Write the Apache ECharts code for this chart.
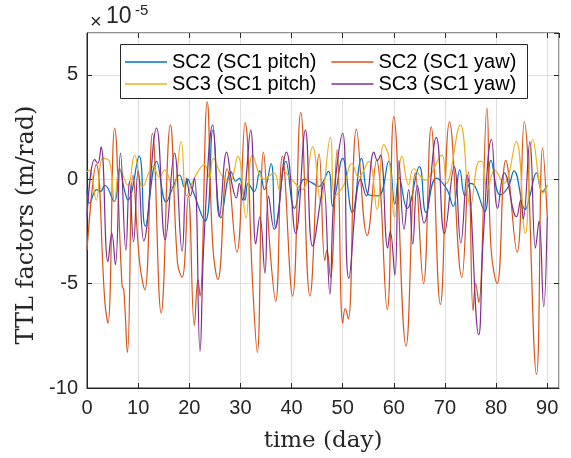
<!DOCTYPE html>
<html>
<head>
<meta charset="utf-8">
<script src="https://cdn.jsdelivr.net/npm/echarts@6/dist/echarts.min.js"></script>
<style>
html,body{margin:0;padding:0;background:#fff;}
#main{width:571px;height:458px;}
</style>
</head>
<body>
<div id="main"></div>
<script>
// values are in units of 1e-5 m/rad, [day, value]
var legendNames = ['SC2 (SC1 pitch)', 'SC2 (SC1 yaw)', 'SC3 (SC1 pitch)', 'SC3 (SC1 yaw)'];
var lineColors = ['#0072BD', '#D95319', '#EDB120', '#7E2F8E'];
var xTicks = [0, 10, 20, 30, 40, 50, 60, 70, 80, 90];
var yTicks = [-10, -5, 0, 5];

var sc2Pitch = [
  [0,-0.5],[0.5,-1.15],[1.9,-0.5],[2.6,-0.6],[3.5,-0.3],[5.3,-1.07],[6.4,0.5],[7.3,-0.5],[8.0,-1.0],
  [10.2,1.1],[11.4,-2.25],[13.6,0.85],[15.5,-1.1],[16.6,-0.5],[18.1,0.2],[19.1,-0.4],[19.7,0.0],[20.3,-0.3],
  [23.1,-2.0],[24.6,2.35],[26.2,-1.85],[28.2,0.35],[29.1,-0.1],[29.8,0.05],[30.9,-1.0],[31.5,-0.2],[32.7,-0.6],
  [33.8,0.4],[34.7,-0.5],[36.0,0.75],[36.9,-2.35],[38.9,0.85],[40.6,-1.4],[42.5,0.0],[44.2,-0.2],[45.3,-0.35],
  [47.2,0.37],[48.0,-1.3],[48.6,-0.7],[50.0,1.0],[51.9,-1.6],[53.7,1.0],[55.1,-0.75],[57.0,-0.8],[59.0,0.85],
  [60.2,-1.2],[61.0,0.1],[62.6,-1.4],[65.0,0.6],[66.3,-1.6],[68.3,0.05],[70.4,-0.5],[71.6,-1.3],[72.9,0.45],
  [73.9,-0.8],[75.0,-0.2],[75.9,-0.35],[77.8,-1.55],[79.0,0.9],[80.8,-0.75],[82.4,-0.35],[83.5,0.4],
  [85.7,-1.45],[86.6,-0.8],[87.9,0.3],[89.0,-0.6],[90,-0.3]
];
var sc2Yaw = [
  [0,-3.4],[1.8,0.7],[3.5,-5.9],[4.1,-6.9],[5.4,2.45],[6.85,-5.1],[7.2,-5.3],[7.9,-8.3],[9.0,0.2],[10.3,-4.0],
  [11.3,-5.3],[12.8,2.2],[14.5,-6.4],[16.3,2.6],[17.7,-4.0],[18.6,-4.7],[19.8,-0.8],[21.0,-7.0],[21.7,-4.8],
  [22.1,-5.6],[23.5,3.7],[24.6,-3.2],[25.6,-4.8],[27.4,0.5],[29.3,-3.5],[30.9,2.7],[32.4,-5.1],[33.3,-8.3],
  [34.5,1.3],[35.9,-3.7],[36.9,-5.85],[38.2,1.1],[40.2,-5.6],[41.8,3.2],[43.6,-5.6],[45.4,1.2],[46.5,-3.9],
  [46.9,-3.4],[47.6,-4.7],[48.9,1.4],[50.0,-6.9],[50.5,-6.2],[51.1,-6.7],[52.7,2.4],[54.8,-2.7],[56.6,0.9],
  [58.7,-6.25],[60.0,3.0],[62.4,-8.0],[64.2,0.3],[65.8,-5.0],[67.3,2.5],[69.1,-6.0],[70.9,2.75],[73.3,-4.7],
  [74.6,0.35],[75.5,-6.3],[76.0,-5.0],[76.6,-5.9],[78.2,3.4],[79.0,-3.3],[80.2,-5.0],[81.9,0.9],[84.1,-3.5],
  [85.5,2.75],[87.9,-9.35],[89.1,1.5],[90,-1.8]
];
var sc3Pitch = [
  [0,0.35],[0.5,0.45],[1.8,-1.0],[3.1,1.0],[4.4,0.85],[5.4,-1.07],[6.4,0.5],[8.0,-0.3],[9.3,1.15],[10.9,-0.35],
  [12.9,0.6],[14.2,0.1],[15.2,0.45],[16.8,-0.5],[18.4,1.8],[19.5,-0.8],[21.0,0.05],[22.96,0.7],[23.95,0.05],
  [24.7,1.0],[26.3,0.2],[27.8,-0.1],[29.5,1.1],[31.1,-1.85],[32.4,1.15],[34.6,0.0],[36.6,0.3],[37.6,-0.5],
  [38.5,0.4],[39.8,0.05],[42.1,-0.5],[44.1,1.55],[45.7,-1.07],[47.6,2.0],[48.5,-0.8],[50.2,-0.3],[51.8,0.75],
  [53.1,0.1],[55.1,0.85],[56.7,-1.45],[58.0,1.65],[59.0,1.1],[60.2,-1.8],[61.6,1.1],[62.9,-0.27],[63.9,0.5],
  [66.2,-0.05],[67.0,0.1],[69.4,1.15],[70.3,-0.2],[73.0,2.6],[75.0,-1.3],[76.7,0.85],[77.2,0.85],[78.3,-0.5],
  [79.7,0.45],[81.5,-0.2],[83.9,1.8],[85.7,-2.6],[87.2,1.9],[89.2,-0.67],[90,-0.3]
];
var sc3Yaw = [
  [0,-1.8],[1.5,0.95],[2.1,0.75],[2.75,1.55],[4.1,-3.95],[4.85,-2.6],[5.55,-4.1],[6.55,1.25],[7.6,-3.4],
  [8.3,-0.1],[9.1,-3.0],[10.0,0.4],[11.1,-2.95],[13.6,2.45],[15.3,-2.9],[17.1,1.25],[18.6,-3.45],[19.5,0.05],
  [20.2,-0.8],[21.0,0.05],[22.1,-8.25],[22.9,-2.8],[24.6,2.6],[25.9,-1.8],[27.3,1.3],[28.4,-0.3],[29.2,-0.9],
  [29.8,-0.2],[30.4,-1.0],[32.0,2.35],[33.0,-3.1],[33.8,-1.8],[34.8,-4.5],[35.5,-0.8],[36.6,-2.4],[39.0,1.3],
  [40.8,-2.6],[42.7,2.35],[44.1,-3.2],[46.1,-0.35],[46.3,-0.2],[47.5,-5.5],[48.3,-0.8],[50.0,2.2],[51.2,-4.75],
  [53.5,0.0],[54.6,-0.8],[56.1,1.3],[56.8,0.9],[57.4,1.15],[58.8,-3.3],[59.3,-2.5],[60.2,-4.6],[61.0,0.9],
  [62.0,-2.4],[62.9,-0.5],[63.7,-3.1],[64.6,-0.3],[65.9,-2.1],[68.3,2.0],[69.9,-2.6],[71.8,0.6],[73.1,-3.05],
  [74.3,0.2],[76.6,-7.45],[77.5,-2.75],[79.1,1.9],[80.3,-1.4],[81.6,0.3],[84.0,-1.8],[84.8,-1.0],[85.3,-1.9],
  [86.6,1.8],[87.7,-3.3],[88.4,-2.0],[89.3,-6.1],[90,-1.8]
];

var axisColor = '#262626';
var gridColor = '#dfdfdf';
var tickFont = 'Liberation Sans, Arial, sans-serif';
var labelFont = 'DejaVu Serif, serif';

function lineSeries(name, data, color) {
  return {
    name: name,
    type: 'line',
    data: data,
    smooth: 0.45,
    symbol: 'none',
    lineStyle: { color: color, width: 1.2 },
    itemStyle: { color: color },
    animation: false
  };
}

function legendRow(top, names) {
  return {
    left: 125, top: top, padding: 0,
    icon: 'rect', itemWidth: 42, itemHeight: 1.5, itemGap: 15,
    textStyle: { fontFamily: tickFont, fontSize: 20, color: '#000' },
    data: names
  };
}

var myChart = echarts.init(document.getElementById('main'));
var option = {
  backgroundColor: '#fff',
  animation: false,
  grid: {
    left: 87, top: 33, right: 12, bottom: 70,
    show: true, borderColor: axisColor, borderWidth: 1, backgroundColor: '#fff'
  },
  legend: [
    legendRow(52, [legendNames[0], legendNames[1]]),
    legendRow(74, [legendNames[2], legendNames[3]])
  ],
  graphic: [
    { type: 'rect', z: 3, shape: { x: 120.5, y: 44.5, width: 407, height: 54 },
      style: { fill: '#fff', stroke: axisColor, lineWidth: 1 } },
    { type: 'text', x: 90, y: 22, style: { text: '\u00d7', fontFamily: tickFont, fontSize: 20, fill: axisColor, verticalAlign: 'middle' } },
    { type: 'text', x: 106, y: 17, style: { text: '10', fontFamily: tickFont, fontSize: 23, fill: axisColor, verticalAlign: 'middle' } },
    { type: 'text', x: 135, y: 11, style: { text: '-5', fontFamily: tickFont, fontSize: 15, fill: axisColor, verticalAlign: 'middle' } },
    { type: 'text', x: 27, y: 225, rotation: Math.PI / 2,
      style: { text: 'TTL factors (m/rad)', fontFamily: labelFont, fontSize: 24, fill: axisColor, align: 'center', verticalAlign: 'middle' } }
  ],
  xAxis: [{
    type: 'value', min: 0, max: 92.3, interval: 10,
    name: 'time (day)', nameLocation: 'middle', nameGap: 42,
    nameTextStyle: { fontFamily: labelFont, fontSize: 23, color: axisColor },
    axisLine: { show: true, onZero: false, lineStyle: { color: axisColor } },
    axisTick: { show: true, inside: true, length: 5, lineStyle: { color: axisColor } },
    axisLabel: {
      margin: 10, fontFamily: tickFont, fontSize: 20, color: axisColor, showMaxLabel: false,
      formatter: function (v) { return xTicks.indexOf(v) >= 0 ? String(v) : ''; }
    },
    splitLine: { show: true, lineStyle: { color: gridColor, width: 1 } }
  }, {
    type: 'value', position: 'top', min: 0, max: 92.3, interval: 10,
    axisLine: { show: false, onZero: false },
    axisTick: { show: true, inside: true, length: 5, lineStyle: { color: axisColor } },
    axisLabel: { show: false },
    splitLine: { show: false }
  }],
  yAxis: [{
    type: 'value', min: -10, max: 7, interval: 5,
    axisLine: { show: true, onZero: false, lineStyle: { color: axisColor } },
    axisTick: { show: true, inside: true, length: 5, lineStyle: { color: axisColor } },
    axisLabel: {
      margin: 9, fontFamily: tickFont, fontSize: 20, color: axisColor, showMaxLabel: false,
      formatter: function (v) { return yTicks.indexOf(v) >= 0 ? String(v) : ''; }
    },
    splitLine: { show: true, lineStyle: { color: gridColor, width: 1 } }
  }, {
    type: 'value', position: 'right', min: -10, max: 7, interval: 5,
    axisLine: { show: false, onZero: false },
    axisTick: { show: true, inside: true, length: 5, lineStyle: { color: axisColor } },
    axisLabel: { show: false },
    splitLine: { show: false }
  }],
  series: [
    lineSeries(legendNames[0], sc2Pitch, lineColors[0]),
    lineSeries(legendNames[1], sc2Yaw, lineColors[1]),
    lineSeries(legendNames[2], sc3Pitch, lineColors[2]),
    lineSeries(legendNames[3], sc3Yaw, lineColors[3])
  ]
};
myChart.setOption(option);
</script>
</body>
</html>
